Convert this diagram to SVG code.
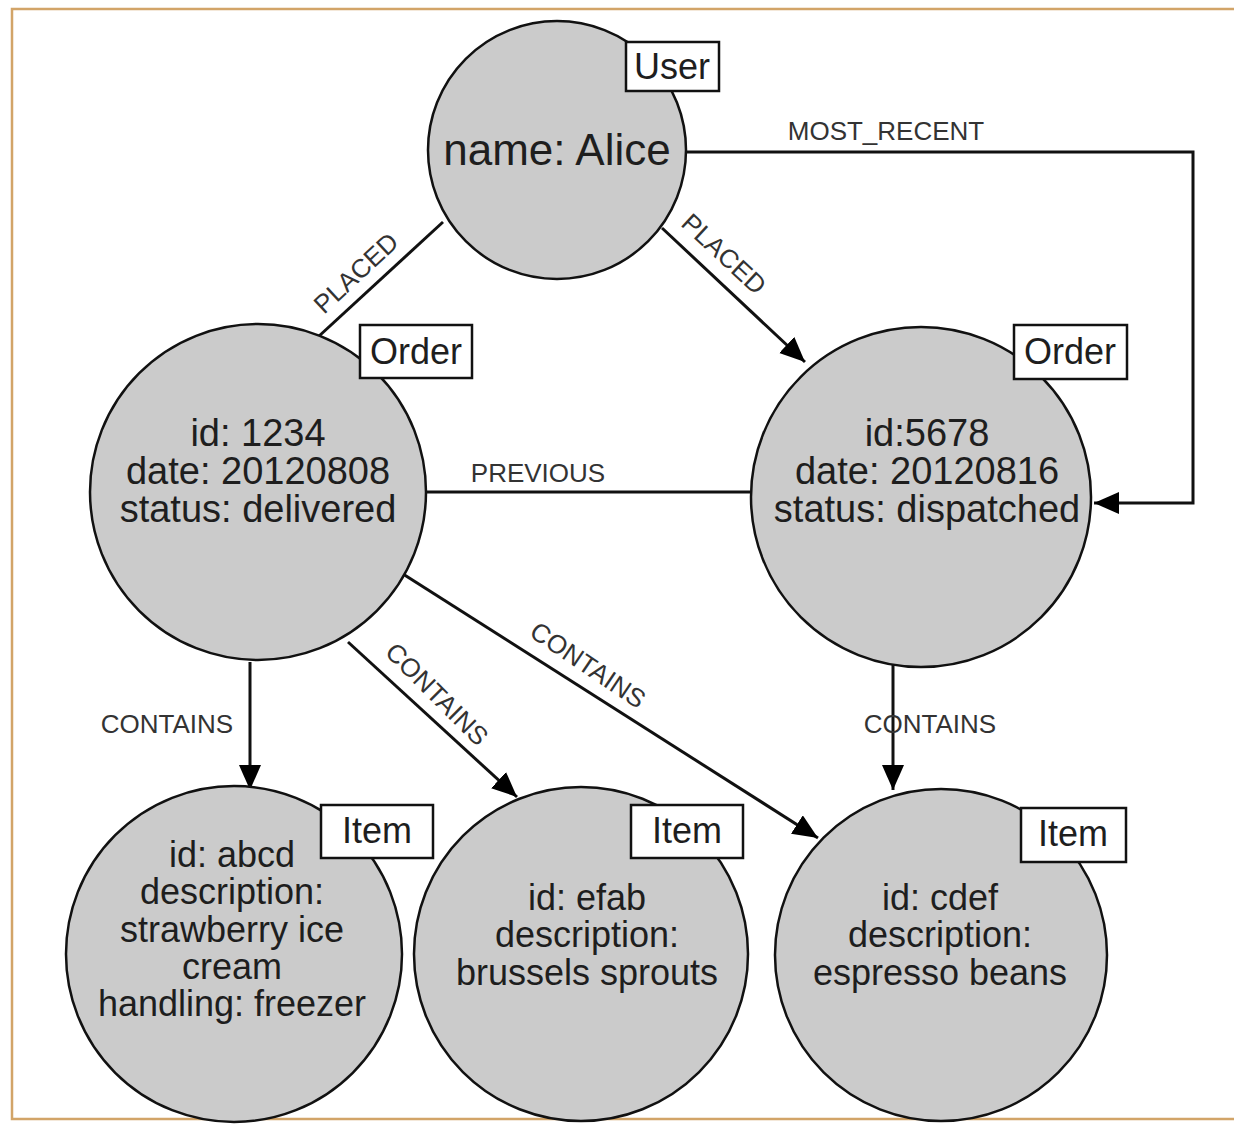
<svg xmlns="http://www.w3.org/2000/svg" width="1234" height="1127" viewBox="0 0 1234 1127">
<style>
.bg{fill:#ffffff}
.frame{fill:none;stroke:#d2a468;stroke-width:2.5}
.node{fill:#cbcbcb;stroke:#111;stroke-width:2.5}
.lbl{fill:#fff;stroke:#111;stroke-width:2.5}
.t{font-family:"Liberation Sans",Arial,sans-serif;fill:#1e1e1e;text-anchor:middle}
.big{font-size:38px}
.itm{font-size:36px}
.name{font-size:44px}
.tag{font-size:36px}
.el{font-family:"Liberation Sans",Arial,sans-serif;font-size:26px;fill:#333;text-anchor:middle}
.edge{fill:none;stroke:#111;stroke-width:3}
</style>
<defs>
<marker id="arr" markerUnits="userSpaceOnUse" markerWidth="26" markerHeight="24" refX="25" refY="11" orient="auto">
<path d="M0,0 L25,11 L0,22 z" fill="#000"/>
</marker>
</defs>
<rect class="bg" x="0" y="0" width="1234" height="1127"/>
<path class="frame" d="M1234,9 L12,9 L12,1119 L1234,1119"/>

<g id="connectors">
<line class="edge" x1="443" y1="222" x2="318" y2="337"/>
<line class="edge" x1="662" y1="228" x2="805" y2="362" marker-end="url(#arr)"/>
<polyline class="edge" points="687,152 1193,152 1193,503 1094,503" marker-end="url(#arr)"/>
<line class="edge" x1="750" y1="492" x2="425" y2="492"/>
<line class="edge" x1="250" y1="662" x2="250" y2="790" marker-end="url(#arr)"/>
<line class="edge" x1="348" y1="642" x2="517" y2="797" marker-end="url(#arr)"/>
<line class="edge" x1="403" y1="574" x2="818" y2="838" marker-end="url(#arr)"/>
<line class="edge" x1="893" y1="663" x2="893" y2="790" marker-end="url(#arr)"/>
<text class="el" transform="translate(356,273) rotate(-43)" y="9">PLACED</text>
<text class="el" transform="translate(724,254) rotate(43)" y="9">PLACED</text>
<text class="el" x="886" y="140">MOST_RECENT</text>
<text class="el" x="538" y="482">PREVIOUS</text>
<text class="el" x="167" y="733">CONTAINS</text>
<text class="el" x="930" y="733">CONTAINS</text>
<text class="el" transform="translate(437,694) rotate(45)" y="9">CONTAINS</text>
<text class="el" transform="translate(588,665) rotate(34)" y="9">CONTAINS</text>
</g>

<g id="user">
<circle class="node" cx="557" cy="150" r="129"/>
<text class="t name" x="557" y="165">name: Alice</text>
<rect class="lbl" x="626" y="42" width="93" height="49"/>
<text class="t tag" x="672" y="79">User</text>
</g>

<g id="order1">
<circle class="node" cx="258" cy="492" r="168"/>
<text class="t big" x="258" y="446">id: 1234</text>
<text class="t big" x="258" y="484">date: 20120808</text>
<text class="t big" x="258" y="522">status: delivered</text>
<rect class="lbl" x="360" y="325" width="112" height="53"/>
<text class="t tag" x="416" y="364">Order</text>
</g>

<g id="order2">
<circle class="node" cx="921" cy="497" r="170"/>
<text class="t big" x="927" y="446">id:5678</text>
<text class="t big" x="927" y="484">date: 20120816</text>
<text class="t big" x="927" y="522">status: dispatched</text>
<rect class="lbl" x="1014" y="325" width="113" height="54"/>
<text class="t tag" x="1070" y="364">Order</text>
</g>

<g id="item-abcd">
<circle class="node" cx="234" cy="954" r="168"/>
<text class="t itm" x="232" y="867">id: abcd</text>
<text class="t itm" x="232" y="904">description:</text>
<text class="t itm" x="232" y="942">strawberry ice</text>
<text class="t itm" x="232" y="979">cream</text>
<text class="t itm" x="232" y="1016">handling: freezer</text>
<rect class="lbl" x="321" y="805" width="112" height="53"/>
<text class="t tag" x="377" y="843">Item</text>
</g>

<g id="item-efab">
<circle class="node" cx="581" cy="954" r="167"/>
<text class="t itm" x="587" y="910">id: efab</text>
<text class="t itm" x="587" y="947">description:</text>
<text class="t itm" x="587" y="985">brussels sprouts</text>
<rect class="lbl" x="631" y="805" width="112" height="53"/>
<text class="t tag" x="687" y="843">Item</text>
</g>

<g id="item-cdef">
<circle class="node" cx="941" cy="955" r="166"/>
<text class="t itm" x="940" y="910">id: cdef</text>
<text class="t itm" x="940" y="947">description:</text>
<text class="t itm" x="940" y="985">espresso beans</text>
<rect class="lbl" x="1021" y="808" width="105" height="54"/>
<text class="t tag" x="1073" y="846">Item</text>
</g>
</svg>
